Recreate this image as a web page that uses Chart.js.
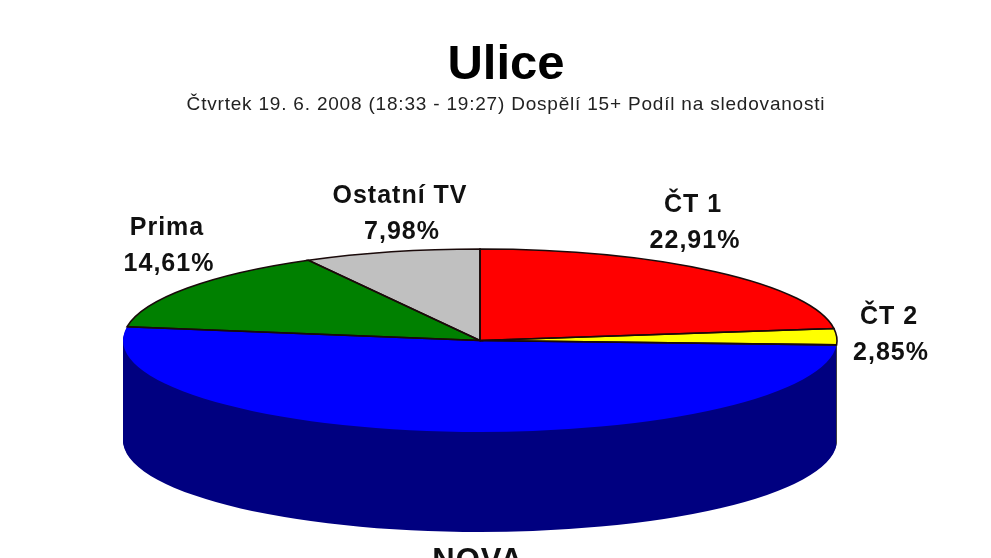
<!DOCTYPE html>
<html>
<head>
<meta charset="utf-8">
<title>Ulice</title>
<script src="https://cdn.jsdelivr.net/npm/chart.js@4"></script>
<style>
html, body { margin: 0; padding: 0; background: #fff; overflow: hidden; width: 991px; height: 558px; }
canvas { display: block; }
</style>
</head>
<body>
<canvas id="chart" width="991" height="558"></canvas>
<script>
// categories and values, clockwise from 12 o'clock
var categories = ["ČT 1", "ČT 2", "NOVA", "Prima", "Ostatní TV"];
var shareValues = [22.91, 2.85, 51.65, 14.61, 7.98];
var shareLabels = ["22,91%", "2,85%", "51,65%", "14,61%", "7,98%"];
var topColors = ["#ff0000", "#ffff00", "#0000ff", "#008000", "#c0c0c0"];
var sideColors = ["#800000", "#808000", "#000080", "#004000", "#606060"];
var chartTitle = "Ulice";
var chartSubtitle = "Čtvrtek 19. 6. 2008 (18:33 - 19:27) Dospělí 15+ Podíl na sledovanosti";

var RADIUS = 357;
var SQUASH = 91.5 / 357;
var DEPTH = 100;

// label centres, one per category (first line)
var labelX = [693, 889, 478, 167, 400];
var labelY = [205, 317, 561, 228, 196];
var labelSize = [25, 25, 31, 25, 25];

function sector(ctx, arc) {
    var p = arc.getProps(["x", "y", "startAngle", "endAngle", "outerRadius"]);
    ctx.beginPath();
    ctx.moveTo(p.x, p.y);
    ctx.arc(p.x, p.y, p.outerRadius, p.startAngle, p.endAngle);
    ctx.closePath();
}

function squash(ctx, arc, down) {
    ctx.translate(arc.x, arc.y + down);
    ctx.scale(1, SQUASH);
    ctx.translate(-arc.x, -arc.y);
}

var pie3d = {
    id: "pie3d",
    //side wall first, then squash the canvas for the library's own top face
    beforeDatasetsDraw: function(chart) {
        var ctx = chart.ctx;
        var arcs = chart.getDatasetMeta(0).data;

        for (var d = DEPTH; d > 0; d--) {
            arcs.forEach(function(arc, i) {
                ctx.save();
                squash(ctx, arc, d);
                sector(ctx, arc);
                ctx.restore();
                ctx.fillStyle = sideColors[i];
                ctx.fill();
            });
        }

        ctx.save();
        squash(ctx, arcs[0], 0);
    },
    afterDatasetsDraw: function(chart) {
        var ctx = chart.ctx;
        var arcs = chart.getDatasetMeta(0).data;
        ctx.restore();

        //outlines, stroked after the restore so the pen stays round
        ctx.lineWidth = 1.6;
        ctx.strokeStyle = "#1a0a0a";
        arcs.forEach(function(arc, i) {
            ctx.save();
            squash(ctx, arc, 0);
            if (categories[i] === "NOVA") {
                ctx.beginPath();
                ctx.moveTo(arc.x + arc.outerRadius * Math.cos(arc.startAngle), arc.y + arc.outerRadius * Math.sin(arc.startAngle));
                ctx.lineTo(arc.x, arc.y);
                ctx.lineTo(arc.x + arc.outerRadius * Math.cos(arc.endAngle), arc.y + arc.outerRadius * Math.sin(arc.endAngle));
            } else {
                sector(ctx, arc);
            }
            ctx.restore();
            ctx.stroke();
        });
    },
    afterDraw: function(chart) {
        var ctx = chart.ctx;
        ctx.save();
        ctx.textAlign = "center";
        ctx.textBaseline = "middle";

        //heading sits right of the pie centre, so it can't use the title plugin
        ctx.fillStyle = "#000";
        ctx.font = "bold 49px 'Liberation Sans'";
        ctx.fillText(chartTitle, 506, 65);
        ctx.fillStyle = "#222";
        ctx.font = "19px 'Liberation Sans'";
        ctx.letterSpacing = "0.8px";
        ctx.fillText(chartSubtitle, 506, 105);

        ctx.fillStyle = "#111";
        ctx.letterSpacing = "1px";
        categories.forEach(function(name, i) {
            ctx.font = "bold " + labelSize[i] + "px 'Liberation Sans'";
            ctx.fillText(name, labelX[i], labelY[i]);
            ctx.fillText(shareLabels[i], labelX[i] + 2, labelY[i] + 36);
        });
        ctx.restore();
    }
};

new Chart(document.getElementById("chart"), {
    type: "pie",
    data: {
        labels: categories,
        datasets: [{
            data: shareValues,
            backgroundColor: topColors,
            borderWidth: 0,
            radius: RADIUS,
            clip: false
        }]
    },
    options: {
        responsive: false,
        animation: false,
        layout: { padding: { top: 141, right: 31, bottom: 18 } },
        plugins: {
            legend: { display: false },
            tooltip: { enabled: false }
        }
    },
    plugins: [pie3d]
});
</script>
</body>
</html>
